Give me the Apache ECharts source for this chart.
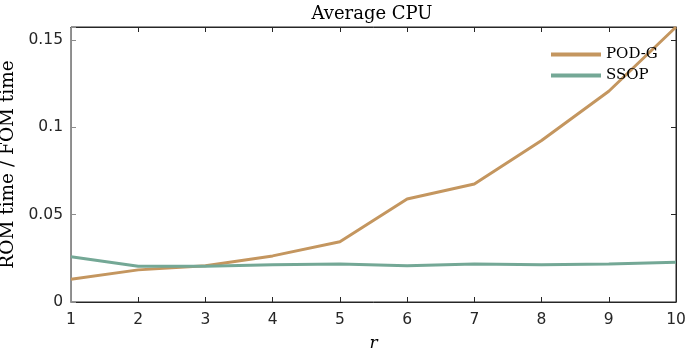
<!DOCTYPE html>
<html>
<head>
<meta charset="utf-8">
<script src="https://cdn.jsdelivr.net/npm/echarts@6/dist/echarts.min.js"></script>
<style>
  html, body { margin: 0; padding: 0; background: #fff; }
  #chart { width: 687px; height: 350px; }
</style>
</head>
<body>
<div id="chart"></div>
<script>
const rValues = [1, 2, 3, 4, 5, 6, 7, 8, 9, 10];
const podG = [0.013, 0.0184, 0.0207, 0.0264, 0.0345, 0.059, 0.0676, 0.0925, 0.1207, 0.1575];
const ssop = [0.0259, 0.0205, 0.0205, 0.0214, 0.0217, 0.0207, 0.0218, 0.0214, 0.0217, 0.0228];
const yTicks = [0, 0.05, 0.1, 0.15];

const serif = '"DejaVu Serif", "Liberation Serif", serif';
const sans = '"DejaVu Sans", "Liberation Sans", sans-serif';

let myChart = echarts.init(document.getElementById('chart'));

const tick = { show: true, inside: true, length: 5, lineStyle: { color: '#262626', width: 1 } };

let option = {
    animation: false,
    title: {
        text: 'Average CPU',
        left: 367,
        textAlign: 'center',
        top: 0,
        textStyle: { fontFamily: serif, fontSize: 18, fontWeight: 'normal', color: '#000' }
    },
    legend: {
        orient: 'vertical',
        left: 546,
        top: 42,
        itemWidth: 50,
        itemHeight: 4,
        itemGap: 6,
        icon: 'rect',
        textStyle: { fontFamily: serif, fontSize: 15, lineHeight: 15, color: '#000' },
        data: ['POD-G', 'SSOP']
    },
    grid: {
        left: 71, right: 11, top: 27, bottom: 48,
        outerBoundsMode: 'none', containLabel: false,
        show: true, borderColor: '#262626', borderWidth: 1
    },
    xAxis: [{
        type: 'value',
        position: 'bottom',
        min: 1,
        max: 10,
        interval: 1,
        name: 'r',
        nameLocation: 'middle',
        nameGap: 33,
        nameTextStyle: { fontFamily: serif, fontStyle: 'italic', fontSize: 17, color: '#000' },
        axisLine: { show: true, onZero: false, lineStyle: { color: '#262626' } },
        axisTick: tick,
        axisLabel: { fontFamily: sans, fontSize: 15.5, color: '#262626', margin: 10 },
        splitLine: { show: false }
    }, {
        // top mirror
        type: 'value',
        position: 'top',
        min: 1,
        max: 10,
        interval: 1,
        axisLine: { show: true, onZero: false, lineStyle: { color: '#262626' } },
        axisTick: tick,
        axisLabel: { show: false },
        splitLine: { show: false }
    }],
    yAxis: [{
        type: 'value',
        position: 'left',
        min: 0,
        max: 0.1575,
        interval: 0.05,
        name: 'ROM time / FOM time',
        nameLocation: 'middle',
        nameGap: 53,
        nameTextStyle: { fontFamily: serif, fontSize: 18.5, color: '#000' },
        axisLine: { show: true, onZero: false, lineStyle: { color: '#8c8c8c' } },
        axisTick: { show: true, inside: true, length: 5, lineStyle: { color: '#8c8c8c', width: 1 } },
        axisLabel: {
            fontFamily: sans, fontSize: 15.5, color: '#262626', margin: 8,
            formatter: v => yTicks.some(t => Math.abs(t - v) < 1e-9) ? String(+v.toFixed(2)) : ''
        },
        splitLine: { show: false },
        z: 3
    }, {
        // right mirror
        type: 'value',
        position: 'right',
        min: 0,
        max: 0.1575,
        interval: 0.05,
        axisLine: { show: true, onZero: false, lineStyle: { color: '#262626' } },
        axisTick: tick,
        axisLabel: { show: false },
        splitLine: { show: false }
    }],
    series: [{
        name: 'POD-G',
        type: 'line',
        xAxisIndex: 0,
        yAxisIndex: 0,
        data: rValues.map((r, i) => [r, podG[i]]),
        showSymbol: false,
        color: '#c4965f',
        lineStyle: { width: 3 }
    }, {
        name: 'SSOP',
        type: 'line',
        xAxisIndex: 1,
        yAxisIndex: 1,
        data: rValues.map((r, i) => [r, ssop[i]]),
        showSymbol: false,
        color: '#74a896',
        lineStyle: { width: 3 }
    }]
};
option && myChart.setOption(option);
</script>
</body>
</html>
